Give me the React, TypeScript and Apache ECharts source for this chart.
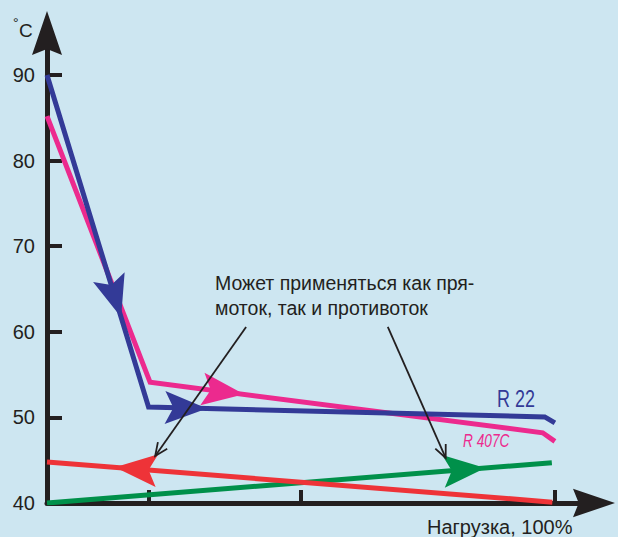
import React, { useEffect, useRef } from "react";
import * as echarts from "echarts";

// ---- data ----
const yTickValues = [40, 50, 60, 70, 80, 90];
const yInnerTicks = [50, 60, 70, 80, 90];
const xTickValues = [20, 50, 100];

const r22: [number, number][] = [[0, 90], [20, 51.2], [98, 50.05], [100, 49.35]];
const r407c: [number, number][] = [[0, 85.2], [20.3, 54.1], [97.6, 48.2], [100, 47.2]];
const counterFlow: [number, number][] = [[0, 44.8], [99.5, 40.1]];
const coFlow: [number, number][] = [[0, 40], [99.4, 44.7]];

// flow arrowheads: [tipX, tipY, backX, backY] (back = point behind the tip on the same line)
const flowArrowData: number[][] = [
  [14.6, 61.7, 0, 90],
  [31.5, 51.03, 20, 51.2],
  [38.8, 52.69, 20.3, 54.1],
  [13.4, 44.17, 99.5, 40.1],
  [86.3, 44.08, 0, 40],
];
// annotation pointers: [fromX, fromY, toX, toY]
const pointerData: number[][] = [
  [39.2, 60.56, 21.3, 45.5],
  [67.1, 60.56, 78.5, 45.26],
];

const noteLines = ["Может применяться как пря-", "моток, так и противоток"];
const yUnit = "°C";
const xName = "Нагрузка, 100%";
const r22Label = "R 22";
const r407cLabel = "R 407C";

// ---- styles ----
const BLUE = "#333a97";
const PINK = "#ec2a8e";
const RED = "#ee3338";
const GREEN = "#00904a";
const BLACK = "#231f20";
const BG = "#cde6f1";
const FONT = "Liberation Sans, Arial, sans-serif";
const flowArrowColors = [BLUE, BLUE, PINK, RED, GREEN];

export default function App() {
  const ref = useRef<HTMLDivElement>(null);
  useEffect(() => {
    if (!ref.current) return;
    const chart = echarts.init(ref.current, null, { renderer: "svg" });
    const arrowPath = "path://M15,0L30,44L15,38L0,44Z";
    chart.setOption({
      animation: false,
      backgroundColor: BG,
      grid: { left: 47, top: 33, width: 547, height: 470, containLabel: false, outerBoundsMode: "none" },
      xAxis: {
        type: "value",
        min: 0,
        max: 107.7,
        splitLine: { show: false },
        axisLine: {
          show: true,
          lineStyle: { color: BLACK, width: 5 },
          symbol: ["none", arrowPath],
          symbolSize: [33, 42],
        },
        axisTick: {
          show: true,
          inside: true,
          length: 13,
          customValues: xTickValues,
          lineStyle: { color: BLACK, width: 4 },
        },
        axisLabel: { show: false },
      },
      yAxis: {
        type: "value",
        min: 40,
        max: 94.9,
        splitLine: { show: false },
        axisLine: {
          show: true,
          lineStyle: { color: BLACK, width: 5 },
          symbol: ["none", arrowPath],
          symbolSize: [31, 44],
        },
        axisTick: {
          show: true,
          inside: true,
          length: 15,
          customValues: yInnerTicks,
          lineStyle: { color: BLACK, width: 4 },
        },
        axisLabel: {
          show: true,
          customValues: yTickValues,
          color: BLACK,
          fontSize: 20,
          fontFamily: FONT,
          margin: 12,
        },
      },
      series: [
        { type: "line", data: coFlow, showSymbol: false, z: 3, lineStyle: { color: GREEN, width: 5 }, itemStyle: { color: GREEN } },
        { type: "line", data: counterFlow, showSymbol: false, z: 4, lineStyle: { color: RED, width: 5 }, itemStyle: { color: RED } },
        { type: "line", data: r407c, showSymbol: false, z: 5, lineStyle: { color: PINK, width: 5, join: "miter" }, itemStyle: { color: PINK } },
        { type: "line", data: r22, showSymbol: false, z: 6, lineStyle: { color: BLUE, width: 5, join: "miter" }, itemStyle: { color: BLUE } },
        {
          type: "custom",
          z: 7,
          data: flowArrowData,
          renderItem: (params: any, api: any) => {
            const tip = api.coord([api.value(0), api.value(1)]);
            const back = api.coord([api.value(2), api.value(3)]);
            let dx = tip[0] - back[0];
            let dy = tip[1] - back[1];
            const d = Math.hypot(dx, dy) || 1;
            dx /= d; dy /= d;
            const nx = -dy, ny = dx;
            const len = 42, w = 33;
            const bx = tip[0] - dx * len, by = tip[1] - dy * len;
            const points = [
              tip,
              [bx + nx * w / 2, by + ny * w / 2],
              [tip[0] - dx * len * 0.8, tip[1] - dy * len * 0.8],
              [bx - nx * w / 2, by - ny * w / 2],
            ];
            return {
              type: "polygon",
              shape: { points },
              style: { fill: flowArrowColors[params.dataIndex] },
            };
          },
        },
        {
          type: "custom",
          z: 8,
          data: pointerData,
          renderItem: (params: any, api: any) => {
            const a = api.coord([api.value(0), api.value(1)]);
            const b = api.coord([api.value(2), api.value(3)]);
            let dx = b[0] - a[0];
            let dy = b[1] - a[1];
            const d = Math.hypot(dx, dy) || 1;
            dx /= d; dy /= d;
            const hl = 14, ang = (24 * Math.PI) / 180;
            const c = Math.cos(ang), s = Math.sin(ang);
            const l1 = [b[0] - hl * (dx * c - dy * s), b[1] - hl * (dy * c + dx * s)];
            const l2 = [b[0] - hl * (dx * c + dy * s), b[1] - hl * (dy * c - dx * s)];
            return {
              type: "group",
              children: [
                { type: "line", shape: { x1: a[0], y1: a[1], x2: b[0], y2: b[1] }, style: { stroke: BLACK, lineWidth: 1.8 } },
                { type: "polyline", shape: { points: [l1, b, l2] }, style: { stroke: BLACK, lineWidth: 1.8, fill: "none" } },
              ],
            };
          },
        },
      ],
      graphic: [
        { type: "text", x: 13, y: 23, style: { text: "°", fontSize: 14, fontFamily: FONT, fill: BLACK, verticalAlign: "middle" } },
        { type: "text", x: 19, y: 30, style: { text: "C", fontSize: 19, fontFamily: FONT, fill: BLACK, verticalAlign: "middle" } },
        { type: "text", x: 215, y: 282.5, style: { text: noteLines[0], fontSize: 19.5, fontFamily: FONT, fill: BLACK, verticalAlign: "middle" } },
        { type: "text", x: 215, y: 307.5, style: { text: noteLines[1], fontSize: 19.5, fontFamily: FONT, fill: BLACK, verticalAlign: "middle" } },
        { type: "text", x: 427, y: 527, style: { text: xName, fontSize: 20, fontFamily: FONT, fill: BLACK, verticalAlign: "middle" } },
        { type: "text", x: 497, y: 399, scaleX: 0.78, style: { text: r22Label, fontSize: 23, fontFamily: FONT, fill: BLUE, verticalAlign: "middle" } },
        { type: "text", x: 463, y: 441, scaleX: 0.72, style: { text: r407cLabel, fontSize: 19, fontStyle: "italic", fontFamily: FONT, fill: PINK, verticalAlign: "middle" } },
      ],
    });
    return () => chart.dispose();
  }, []);
  return <div ref={ref} style={{ position: "absolute", left: 0, top: 0, width: 618, height: 537 }} />;
}
